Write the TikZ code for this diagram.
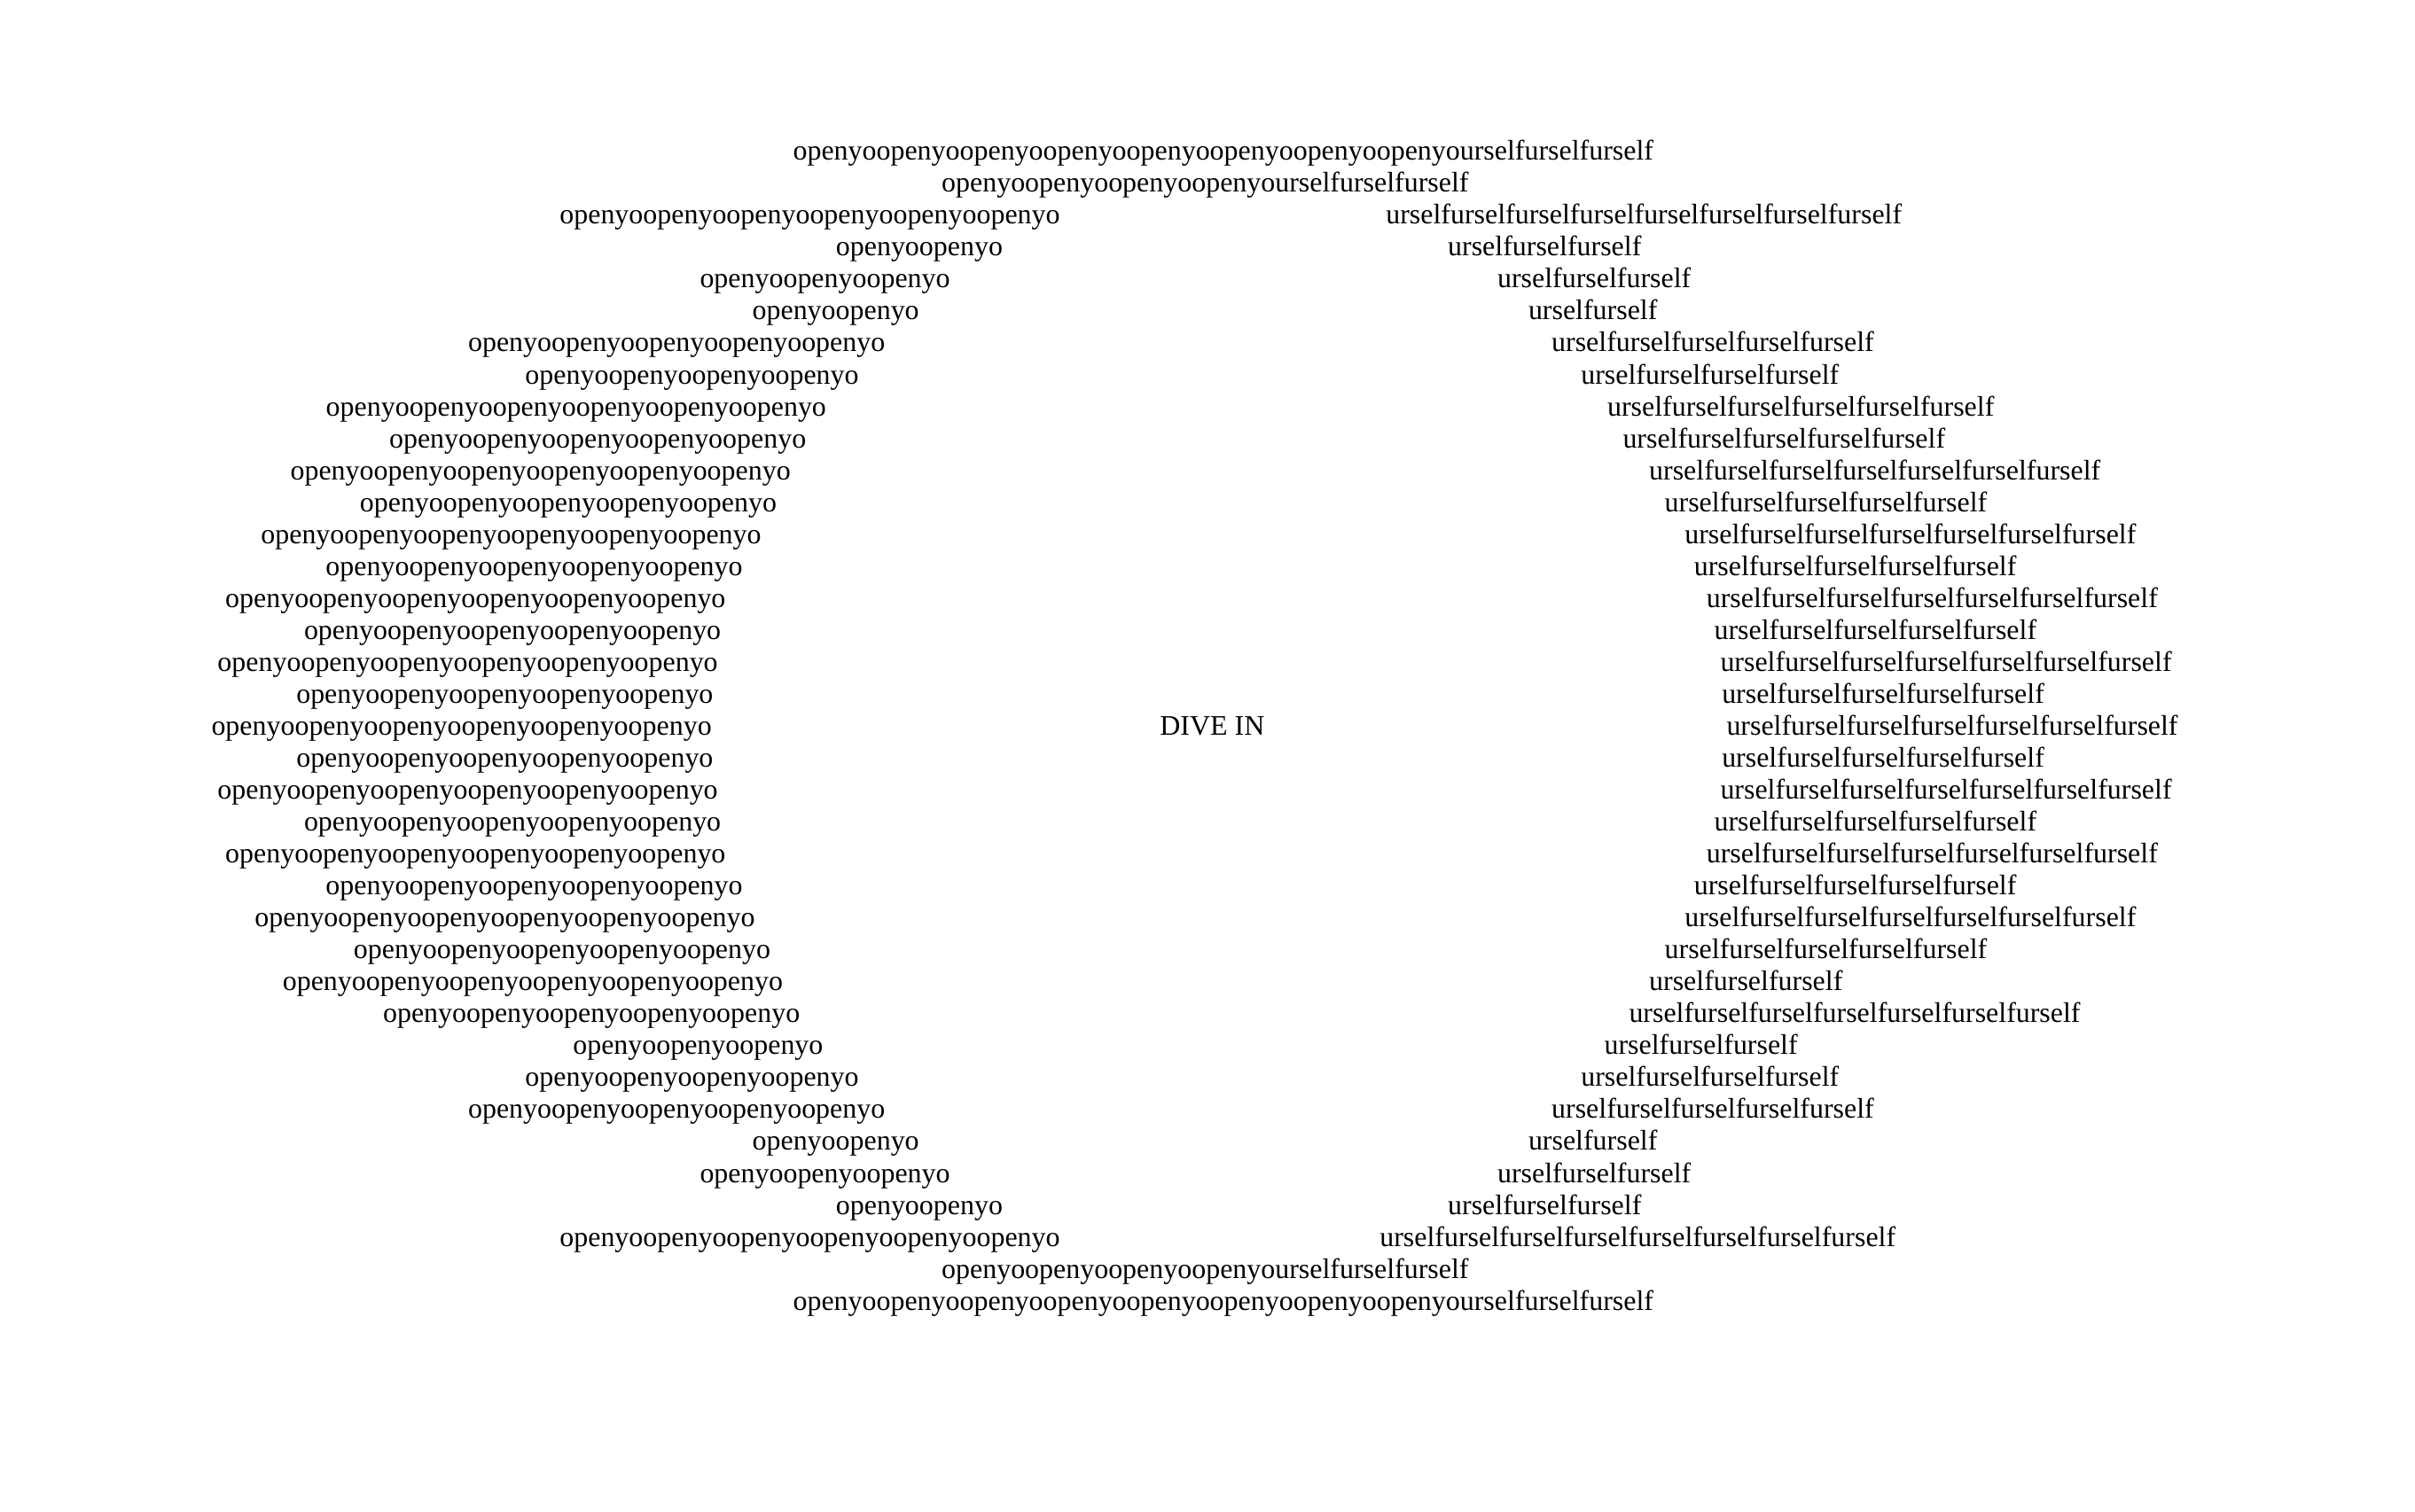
\documentclass[tikz,border=0pt]{standalone}
\usepackage{fontspec}
\setmainfont{Liberation Serif}
\begin{document}
\begin{tikzpicture}[x=0.02305cm,y=-0.02305cm,every node/.style={inner sep=0pt,font=\fontsize{12}{14}\selectfont},lt/.style={anchor=base east},rt/.style={anchor=base west}]
\useasboundingbox (3,0) rectangle (1563,977);
\node[rt] (w1) at (515,103.5) {openyoopenyoopenyoopenyoopenyoopenyoopenyoopenyourselfurselfurself};
\node[rt] (w2) at (611,124.1) {openyoopenyoopenyoopenyourselfurselfurself};
\node[lt] (l3) at (688,144.8) {openyoopenyoopenyoopenyoopenyoopenyo};
\node[rt] (r3) at (898,144.8) {urselfurselfurselfurselfurselfurselfurselfurself};
\node[lt] (l4) at (651,165.4) {openyoopenyo};
\node[rt] (r4) at (938,165.4) {urselfurselfurself};
\node[lt] (l5) at (617,186.1) {openyoopenyoopenyo};
\node[rt] (r5) at (970,186.1) {urselfurselfurself};
\node[lt] (l6) at (597,206.7) {openyoopenyo};
\node[rt] (r6) at (990,206.7) {urselfurself};
\node[lt] (l7) at (575,227.3) {openyoopenyoopenyoopenyoopenyo};
\node[rt] (r7) at (1005,227.3) {urselfurselfurselfurselfurself};
\node[lt] (l8) at (558,248) {openyoopenyoopenyoopenyo};
\node[rt] (r8) at (1024,248) {urselfurselfurselfurself};
\node[lt] (l9) at (537,268.6) {openyoopenyoopenyoopenyoopenyoopenyo};
\node[rt] (r9) at (1041,268.6) {urselfurselfurselfurselfurselfurself};
\node[lt] (l10) at (524,289.3) {openyoopenyoopenyoopenyoopenyo};
\node[rt] (r10) at (1051,289.3) {urselfurselfurselfurselfurself};
\node[lt] (l11) at (514,309.9) {openyoopenyoopenyoopenyoopenyoopenyo};
\node[rt] (r11) at (1068,309.9) {urselfurselfurselfurselfurselfurselfurself};
\node[lt] (l12) at (505,330.5) {openyoopenyoopenyoopenyoopenyo};
\node[rt] (r12) at (1078,330.5) {urselfurselfurselfurselfurself};
\node[lt] (l13) at (495,351.2) {openyoopenyoopenyoopenyoopenyoopenyo};
\node[rt] (r13) at (1091,351.2) {urselfurselfurselfurselfurselfurselfurself};
\node[lt] (l14) at (483,371.8) {openyoopenyoopenyoopenyoopenyo};
\node[rt] (r14) at (1097,371.8) {urselfurselfurselfurselfurself};
\node[lt] (l15) at (472,392.5) {openyoopenyoopenyoopenyoopenyoopenyo};
\node[rt] (r15) at (1105,392.5) {urselfurselfurselfurselfurselfurselfurself};
\node[lt] (l16) at (469,413.1) {openyoopenyoopenyoopenyoopenyo};
\node[rt] (r16) at (1110,413.1) {urselfurselfurselfurselfurself};
\node[lt] (l17) at (467,433.7) {openyoopenyoopenyoopenyoopenyoopenyo};
\node[rt] (r17) at (1114,433.7) {urselfurselfurselfurselfurselfurselfurself};
\node[lt] (l18) at (464,454.4) {openyoopenyoopenyoopenyoopenyo};
\node[rt] (r18) at (1115,454.4) {urselfurselfurselfurselfurself};
\node[lt] (l19) at (463,475) {openyoopenyoopenyoopenyoopenyoopenyo};
\node[rt] (c19) at (752,475) {DIVE IN};
\node[rt] (r19) at (1118,475) {urselfurselfurselfurselfurselfurselfurself};
\node[lt] (l20) at (464,495.7) {openyoopenyoopenyoopenyoopenyo};
\node[rt] (r20) at (1115,495.7) {urselfurselfurselfurselfurself};
\node[lt] (l21) at (467,516.3) {openyoopenyoopenyoopenyoopenyoopenyo};
\node[rt] (r21) at (1114,516.3) {urselfurselfurselfurselfurselfurselfurself};
\node[lt] (l22) at (469,536.9) {openyoopenyoopenyoopenyoopenyo};
\node[rt] (r22) at (1110,536.9) {urselfurselfurselfurselfurself};
\node[lt] (l23) at (472,557.6) {openyoopenyoopenyoopenyoopenyoopenyo};
\node[rt] (r23) at (1105,557.6) {urselfurselfurselfurselfurselfurselfurself};
\node[lt] (l24) at (483,578.2) {openyoopenyoopenyoopenyoopenyo};
\node[rt] (r24) at (1097,578.2) {urselfurselfurselfurselfurself};
\node[lt] (l25) at (491,598.9) {openyoopenyoopenyoopenyoopenyoopenyo};
\node[rt] (r25) at (1091,598.9) {urselfurselfurselfurselfurselfurselfurself};
\node[lt] (l26) at (501,619.5) {openyoopenyoopenyoopenyoopenyo};
\node[rt] (r26) at (1078,619.5) {urselfurselfurselfurselfurself};
\node[lt] (l27) at (509,640.1) {openyoopenyoopenyoopenyoopenyoopenyo};
\node[rt] (r27) at (1068,640.1) {urselfurselfurself};
\node[lt] (l28) at (520,660.8) {openyoopenyoopenyoopenyoopenyo};
\node[rt] (r28) at (1055,660.8) {urselfurselfurselfurselfurselfurselfurself};
\node[lt] (l29) at (535,681.4) {openyoopenyoopenyo};
\node[rt] (r29) at (1039,681.4) {urselfurselfurself};
\node[lt] (l30) at (558,702.1) {openyoopenyoopenyoopenyo};
\node[rt] (r30) at (1024,702.1) {urselfurselfurselfurself};
\node[lt] (l31) at (575,722.7) {openyoopenyoopenyoopenyoopenyo};
\node[rt] (r31) at (1005,722.7) {urselfurselfurselfurselfurself};
\node[lt] (l32) at (597,743.3) {openyoopenyo};
\node[rt] (r32) at (990,743.3) {urselfurself};
\node[lt] (l33) at (617,764) {openyoopenyoopenyo};
\node[rt] (r33) at (970,764) {urselfurselfurself};
\node[lt] (l34) at (651,784.6) {openyoopenyo};
\node[rt] (r34) at (938,784.6) {urselfurselfurself};
\node[lt] (l35) at (688,805.3) {openyoopenyoopenyoopenyoopenyoopenyo};
\node[rt] (r35) at (894,805.3) {urselfurselfurselfurselfurselfurselfurselfurself};
\node[rt] (w36) at (611,825.9) {openyoopenyoopenyoopenyourselfurselfurself};
\node[rt] (w37) at (515,846.5) {openyoopenyoopenyoopenyoopenyoopenyoopenyoopenyourselfurselfurself};
\end{tikzpicture}
\end{document}
